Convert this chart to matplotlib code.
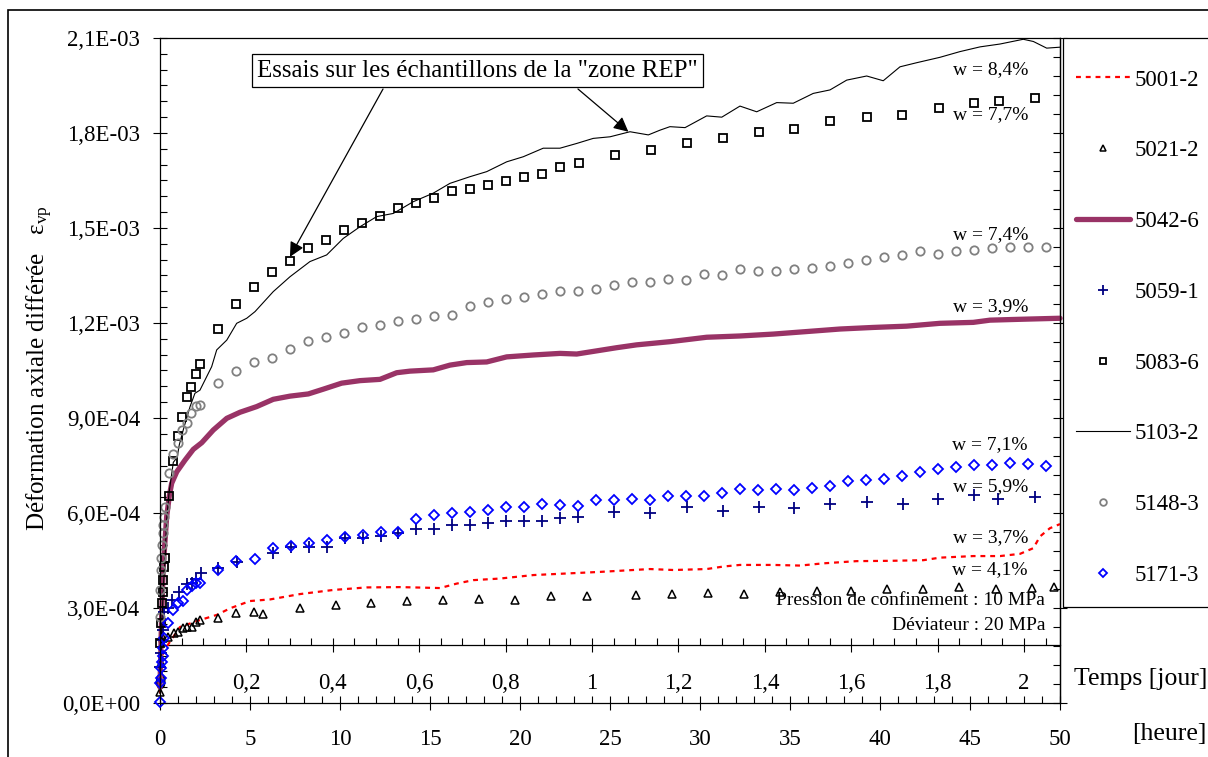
import numpy as np
import matplotlib
matplotlib.use('Agg')
import matplotlib.pyplot as plt
from matplotlib.ticker import MultipleLocator, FuncFormatter, NullFormatter
from matplotlib.patches import Rectangle
from matplotlib.transforms import IdentityTransform

plt.rcParams['font.family'] = ['Liberation Serif', 'DejaVu Serif']
plt.rcParams['mathtext.fontset'] = 'custom'
plt.rcParams['mathtext.rm'] = 'Liberation Serif'
plt.rcParams['mathtext.it'] = 'Liberation Serif:italic'

# ---------------- data (time in hours, strain in units of 1E-4) ----------------
t_5001 = [0.0, 0.09, 0.37, 1.11, 2.22, 3.15, 3.89, 5.0, 6.11, 7.78, 9.63, 11.48, 13.33, 15.56, 16.48,
          17.41, 18.89, 20.74, 22.59, 24.44, 27.22, 28.52, 30.37, 31.3, 32.22, 34.07, 35.56, 36.85,
          38.7, 40.56, 42.41, 43.33, 45.19, 46.67, 47.78, 48.52, 48.89, 49.44, 50.0]
v_5001 = [0.3, 1.46, 1.78, 2.40, 2.62, 2.78, 2.99, 3.22, 3.27, 3.44, 3.57, 3.65, 3.66, 3.63, 3.77,
          3.88, 3.93, 4.04, 4.09, 4.14, 4.23, 4.20, 4.23, 4.31, 4.36, 4.36, 4.34, 4.41,
          4.48, 4.49, 4.51, 4.59, 4.64, 4.64, 4.71, 4.89, 5.26, 5.52, 5.65]

t_5021 = [0.02, 0.04, 0.18, 0.46, 0.78, 1.02, 1.30, 1.52, 1.76, 2.0, 2.22, 3.24, 4.24, 5.24, 5.74,
          7.76, 9.76, 11.72, 13.72, 15.72, 17.72, 19.74, 21.74, 23.72, 26.44, 28.43, 30.43, 32.43,
          34.44, 36.48, 38.37, 40.41, 42.41, 44.41, 46.43, 48.44, 49.67]
v_5021 = [0.35, 1.27, 2.04, 2.07, 2.20, 2.23, 2.36, 2.39, 2.41, 2.57, 2.62, 2.67, 2.83, 2.86, 2.81,
          2.99, 3.10, 3.16, 3.23, 3.25, 3.30, 3.26, 3.38, 3.38, 3.41, 3.44, 3.46, 3.43,
          3.51, 3.54, 3.55, 3.59, 3.59, 3.67, 3.59, 3.63, 3.67]

t_5042 = [0.0, 0.08, 0.18, 0.37, 0.52, 0.65, 0.93, 1.39, 1.85, 2.32, 2.96, 3.71, 4.44, 5.37, 6.29,
          7.22, 8.24, 9.07, 10.09, 11.11, 12.22, 13.15, 13.89, 15.18, 16.11, 17.04, 18.15, 19.26,
          20.74, 22.22, 23.15, 24.26, 25.37, 26.48, 28.33, 30.37, 32.22, 34.07, 35.93, 37.78,
          39.63, 41.48, 43.33, 45.18, 46.11, 47.96, 50.0]
v_5042 = [0.5, 2.5, 4.3, 5.88, 6.55, 6.94, 7.30, 7.67, 8.01, 8.22, 8.62, 8.99, 9.18, 9.36, 9.59,
          9.69, 9.76, 9.91, 10.10, 10.18, 10.22, 10.43, 10.48, 10.52, 10.67, 10.75, 10.77, 10.93,
          10.99, 11.04, 11.02, 11.12, 11.22, 11.31, 11.41, 11.55, 11.59, 11.65, 11.73, 11.81,
          11.86, 11.90, 11.99, 12.02, 12.09, 12.12, 12.15]

t_5059 = [0.0, 0.04, 0.09, 0.15, 0.22, 0.46, 0.65, 1.07, 1.48, 1.76, 2.0, 2.26, 3.24, 4.26, 6.26,
          7.26, 8.26, 9.26, 10.26, 11.26, 12.26, 13.24, 14.24, 15.24, 16.24, 17.24, 18.24, 19.24,
          20.24, 21.24, 22.24, 23.24, 25.24, 27.22, 29.26, 31.26, 33.26, 35.24, 37.22, 39.26,
          41.26, 43.24, 45.24, 46.57, 48.61]
v_5059 = [1.15, 1.58, 1.99, 2.31, 2.88, 2.99, 3.25, 3.50, 3.75, 3.80, 3.92, 4.10, 4.25, 4.44, 4.73,
          4.94, 4.94, 4.94, 5.21, 5.22, 5.27, 5.36, 5.49, 5.49, 5.62, 5.62, 5.67, 5.75,
          5.75, 5.75, 5.83, 5.88, 6.03, 5.99, 6.20, 6.07, 6.20, 6.16, 6.29, 6.35,
          6.29, 6.43, 6.57, 6.44, 6.50]

t_5083 = [0.0, 0.06, 0.11, 0.15, 0.18, 0.22, 0.28, 0.52, 0.74, 1.02, 1.24, 1.5, 1.74, 2.0, 2.24,
          3.24, 4.24, 5.22, 6.24, 7.22, 8.24, 9.22, 10.22, 11.24, 12.24, 13.24, 14.24, 15.22,
          16.22, 17.22, 18.22, 19.22, 20.22, 21.22, 22.22, 23.26, 25.26, 27.26, 29.3, 31.3,
          33.26, 35.24, 37.2, 39.26, 41.24, 43.26, 45.24, 46.6, 48.63]
v_5083 = [1.9, 2.52, 3.15, 3.51, 3.88, 4.30, 4.57, 6.55, 7.63, 8.43, 9.04, 9.65, 9.97, 10.38, 10.71,
          11.80, 12.60, 13.15, 13.62, 13.96, 14.37, 14.62, 14.95, 15.16, 15.38, 15.63, 15.78, 15.95,
          16.17, 16.23, 16.36, 16.49, 16.62, 16.70, 16.92, 17.04, 17.32, 17.46, 17.69, 17.85,
          18.04, 18.12, 18.39, 18.52, 18.58, 18.80, 18.96, 19.00, 19.12]

t_5103 = [0.0, 0.1, 0.2, 0.28, 0.37, 0.5, 0.74, 0.95, 1.07, 1.29, 1.67, 1.94, 2.22, 2.87, 3.15,
          3.71, 4.26, 4.82, 5.28, 6.29, 7.22, 8.33, 9.26, 10.18, 11.11, 12.04, 12.96, 14.07,
          15.18, 16.11, 17.22, 18.15, 19.26, 20.18, 21.29, 22.22, 23.15, 24.07, 25.0, 26.11,
          27.13, 27.78, 28.33, 29.17, 30.37, 31.21, 32.22, 33.15, 34.26, 35.18, 36.29, 37.22,
          38.15, 39.26, 40.18, 41.11, 42.04, 43.33, 44.44, 45.56, 46.67, 47.96, 48.52, 49.26, 50.0]
v_5103 = [0.3, 2.5, 3.8, 4.52, 5.78, 6.62, 7.6, 7.75, 8.15, 8.62, 9.36, 9.78, 9.88, 10.62, 11.15,
          11.46, 11.99, 12.15, 12.36, 12.99, 13.46, 13.94, 14.15, 14.67, 15.04, 15.36, 15.46, 15.83,
          16.10, 16.41, 16.62, 16.78, 17.09, 17.25, 17.52, 17.52, 17.67, 17.83, 17.88, 18.04,
          17.94, 18.09, 18.20, 18.17, 18.54, 18.50, 18.85, 18.67, 18.96, 18.94, 19.25, 19.36,
          19.67, 19.80, 19.65, 20.09, 20.22, 20.39, 20.57, 20.72, 20.81, 20.96, 20.89, 20.68, 20.71]

t_5148 = [0.0, 0.01, 0.04, 0.06, 0.09, 0.15, 0.18, 0.22, 0.28, 0.52, 0.74, 1.02, 1.24, 1.5, 1.74,
          2.0, 2.24, 3.24, 4.24, 5.22, 6.22, 7.22, 8.22, 9.22, 10.22, 11.24, 12.24, 13.24, 14.22,
          15.22, 16.22, 17.22, 18.22, 19.22, 20.22, 21.22, 22.22, 23.22, 24.22, 25.22, 26.22,
          27.22, 28.22, 29.22, 30.22, 31.22, 32.22, 33.2, 34.2, 35.2, 36.2, 37.2, 38.2, 39.2,
          40.2, 41.22, 42.22, 43.2, 44.2, 45.2, 46.2, 47.2, 48.2, 49.2]
v_5148 = [2.73, 3.57, 4.2, 4.57, 4.99, 5.36, 5.62, 5.88, 6.2, 7.27, 7.86, 8.22, 8.62, 8.85, 9.17,
          9.38, 9.40, 10.10, 10.49, 10.78, 10.89, 11.18, 11.42, 11.57, 11.69, 11.86, 11.94, 12.05, 12.12,
          12.22, 12.26, 12.55, 12.66, 12.76, 12.82, 12.91, 13.01, 13.01, 13.07, 13.19, 13.29,
          13.29, 13.40, 13.37, 13.56, 13.52, 13.70, 13.65, 13.65, 13.70, 13.73, 13.80, 13.90, 13.98,
          14.07, 14.16, 14.26, 14.18, 14.26, 14.31, 14.37, 14.40, 14.40, 14.40]

t_5171 = [0.0, 0.02, 0.04, 0.07, 0.11, 0.15, 0.18, 0.22, 0.46, 0.74, 1.02, 1.26, 1.52, 1.76, 2.0,
          2.22, 3.24, 4.24, 5.26, 6.26, 7.26, 8.26, 9.26, 10.26, 11.26, 12.26, 13.24, 14.24, 15.24,
          16.24, 17.24, 18.24, 19.24, 20.24, 21.24, 22.24, 23.24, 24.24, 25.24, 26.22, 27.22,
          28.24, 29.22, 30.22, 31.2, 32.22, 33.2, 34.2, 35.2, 36.2, 37.2, 38.2, 39.2, 40.2,
          41.22, 42.22, 43.22, 44.22, 45.2, 46.2, 47.2, 48.2, 49.2]
v_5171 = [0.04, 0.63, 0.79, 1.1, 1.3, 1.5, 1.74, 2.05, 2.52, 2.94, 3.17, 3.23, 3.57, 3.69, 3.78,
          3.80, 4.20, 4.48, 4.56, 4.90, 4.97, 5.04, 5.15, 5.24, 5.31, 5.41, 5.41, 5.82, 5.95,
          6.01, 6.03, 6.10, 6.19, 6.19, 6.28, 6.24, 6.22, 6.41, 6.41, 6.44, 6.41,
          6.54, 6.54, 6.54, 6.64, 6.75, 6.72, 6.75, 6.72, 6.78, 6.85, 7.01, 7.04, 7.08,
          7.17, 7.29, 7.38, 7.44, 7.53, 7.53, 7.59, 7.55, 7.48]

labels = ['5001-2', '5021-2', '5042-6', '5059-1', '5083-6', '5103-2', '5148-3', '5171-3']

w_texts = ['w = 8,4%', 'w = 7,7%', 'w = 7,4%', 'w = 3,9%', 'w = 7,1%', 'w = 5,9%', 'w = 3,7%', 'w = 4,1%']
w_y = [19.99, 18.57, 14.78, 12.51, 8.15, 6.82, 5.21, 4.20]

hour_ticks = np.arange(0, 51, 5)
day_ticks = np.arange(0, 2.01, 0.2)
U = 1e-4

# ---------------- figure ----------------
W, H = 1208, 757
fig = plt.figure(figsize=(W / 100, H / 100), dpi=100)
ax = fig.add_axes([160 / W, 1 - 703 / H, 900 / W, 665 / H])

ms_kw = dict(clip_on=False, linestyle='none')
ax.plot(t_5001, np.array(v_5001) * U, color='#FF0000', lw=1.6, linestyle=(0, (2.2, 2.2)),
        label=labels[0], clip_on=False)
ax.plot(t_5021, np.array(v_5021) * U, marker='^', ms=5.5, mfc='none', mec='black', mew=1.1,
        label=labels[1], **ms_kw)
ax.plot(t_5042, np.array(v_5042) * U, color='#993366', lw=3.8, label=labels[2], clip_on=False,
        solid_capstyle='round')
ax.plot(t_5059, np.array(v_5059) * U, marker='+', ms=9, mec='#000080', mew=1.3,
        label=labels[3], **ms_kw)
ax.plot(t_5083, np.array(v_5083) * U, marker='s', ms=6.2, mfc='none', mec='black', mew=1.3,
        label=labels[4], **ms_kw)
ax.plot(t_5103, np.array(v_5103) * U, color='black', lw=0.8, label=labels[5], clip_on=False)
ax.plot(t_5148, np.array(v_5148) * U, marker='o', ms=6, mfc='none', mec='#808080', mew=1.3,
        label=labels[6], **ms_kw)
ax.plot(t_5171, np.array(v_5171) * U, marker='D', ms=5.2, mfc='none', mec='#0000FF', mew=1.3,
        label=labels[7], **ms_kw)

ax.set_xlim(0, 50)
ax.set_ylim(0, 2.1e-3)
for s in ax.spines.values():
    s.set_linewidth(0.9)

# hour axis
ax.xaxis.set_major_locator(plt.FixedLocator(hour_ticks))
ax.xaxis.set_minor_locator(MultipleLocator(1))
ax.xaxis.set_major_formatter(FuncFormatter(lambda v, p: f"{v:g}"))
ax.tick_params(axis='x', which='major', direction='inout', length=10, width=0.8,
               labelsize=16.5, pad=14)
ax.tick_params(axis='x', which='minor', direction='in', length=5, width=0.8)

# y axis
ax.yaxis.set_major_locator(MultipleLocator(3e-4))
ax.yaxis.set_minor_locator(MultipleLocator(5e-5))
ax.yaxis.set_major_formatter(FuncFormatter(lambda v, p: f"{v:.1E}".replace('.', ',')))
ax.tick_params(axis='y', which='major', direction='inout', length=10, width=0.8,
               labelsize=16.5, pad=9.4)
ax.tick_params(axis='y', which='minor', direction='in', length=5, width=0.8)

# right y ticks
secy = ax.secondary_yaxis('right')
secy.yaxis.set_major_locator(MultipleLocator(3e-4))
secy.yaxis.set_minor_locator(MultipleLocator(6e-5))
secy.yaxis.set_major_formatter(NullFormatter())
secy.tick_params(axis='y', which='major', direction='inout', length=10, width=0.8)
secy.tick_params(axis='y', which='minor', direction='in', length=5, width=0.8)
secy.spines['right'].set_linewidth(0.9)

# day axis
secx = ax.secondary_xaxis((703 - 645) / 665, functions=(lambda h: h / 24.0, lambda d: d * 24.0))
secx.xaxis.set_major_locator(plt.FixedLocator(day_ticks))
secx.xaxis.set_minor_locator(MultipleLocator(0.05))
secx.xaxis.set_major_formatter(FuncFormatter(
    lambda v, p: (f"{v:.1f}".rstrip('0').rstrip('.')).replace('.', ',')))
secx.tick_params(axis='x', which='major', direction='inout', length=10, width=0.8,
                 labelsize=16.5, pad=15)
secx.tick_params(axis='x', which='minor', direction='in', length=5, width=0.8)
for s in secx.spines.values():
    s.set_linewidth(0.9)

# annotations
for txt, y in zip(w_texts, w_y):
    ax.text(48.22, y * U, txt, ha='right', va='center', fontsize=14)
ax.text(49.17, 3.25 * U, 'Pression de confinement : 10 MPa', ha='right', va='center', fontsize=14)
ax.text(49.17, 2.46 * U, 'Déviateur : 20 MPa', ha='right', va='center', fontsize=14)

ax.text(17.64, 19.96 * U, 'Essais sur les échantillons de la "zone REP"', ha='center', va='center',
        fontsize=18, bbox=dict(boxstyle='square,pad=0.22', fc='white', ec='black', lw=0.9), zorder=5)
arrow_kw = dict(arrowstyle='-|>', color='black', lw=0.9, mutation_scale=22, shrinkA=0, shrinkB=0)
ax.annotate('', xy=(7.22, 14.09 * U), xytext=(12.39, 19.39 * U), arrowprops=arrow_kw)
ax.annotate('', xy=(26.02, 18.04 * U), xytext=(23.22, 19.39 * U), arrowprops=arrow_kw)

# axis texts
fig.text(40 / W, 1 - 368 / H, 'Déformation axiale différée   $\\mathrm{\\varepsilon}_{\\mathrm{vp}}$',
         rotation=90, ha='center', va='center', fontsize=18)
fig.text(1207 / W, 1 - 679 / H, 'Temps [jour]', ha='right', va='center', fontsize=18.5)
fig.text(1207 / W, 1 - 734 / H, '[heure]', ha='right', va='center', fontsize=18.5)

# legend box and legend
fig.patches.append(Rectangle((1063, H - 607), 200, 607 - 38, transform=IdentityTransform(),
                             fill=True, fc='white', ec='black', lw=0.9, zorder=3))
leg = fig.legend(loc='upper left', bbox_to_anchor=(1065 / W, 1 - 58 / H), frameon=False,
                 fontsize=16.5, labelspacing=2.17, handlelength=2.35, handletextpad=0.2,
                 borderpad=0, markerscale=0.8)
leg.set_zorder(4)

# outer frame
fig.patches.append(Rectangle((8, -30), 1400, H - 10 + 30, transform=IdentityTransform(),
                             fill=False, ec='black', lw=1.2))

fig.savefig('out.png', dpi=100)
